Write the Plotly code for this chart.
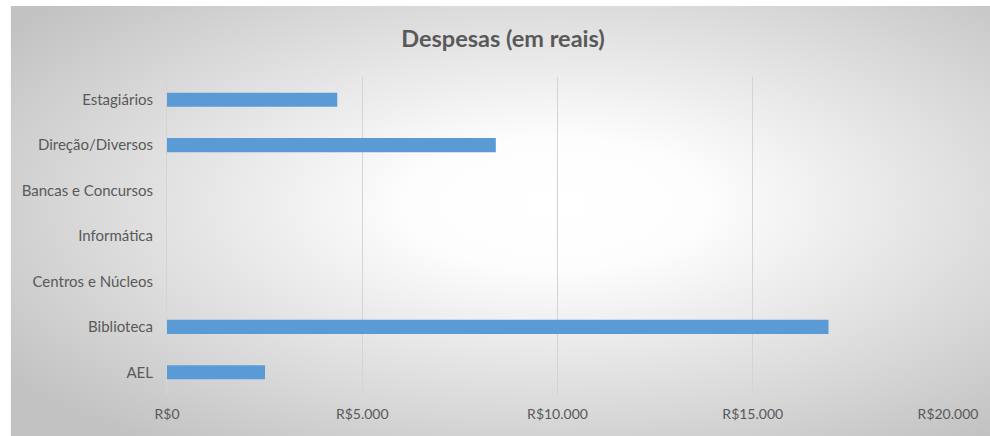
import base64
import plotly.graph_objects as go

categories = ["AEL", "Biblioteca", "Centros e Núcleos", "Informática",
              "Bancas e Concursos", "Direção/Diversos", "Estagiários"]
values = [2510, 16940, 0, 0, 0, 8420, 4360]
tick_vals = [0, 5000, 10000, 15000, 20000]
tick_text = ["R$0", "R$5.000", "R$10.000", "R$15.000", "R$20.000"]
title_text = "Despesas (em reais)"

W, H = 990, 436
L, R, T, B = 167, 34, 77, 41
pw, ph = W - L - R, H - T - B

svg = (
    '<svg xmlns="http://www.w3.org/2000/svg" width="1000" height="440" '
    'viewBox="0 0 1000 440" preserveAspectRatio="none">'
    '<defs><radialGradient id="g" cx="55%" cy="45%" r="68%">'
    '<stop offset="0" stop-color="#ffffff"/>'
    '<stop offset="0.22" stop-color="#fdfdfd"/>'
    '<stop offset="1" stop-color="#c2c2c2"/>'
    '</radialGradient></defs>'
    '<rect x="0" y="0" width="1000" height="440" fill="url(#g)"/></svg>'
)
src = "data:image/svg+xml;base64," + base64.b64encode(svg.encode()).decode()

x0 = (9 - L) / pw
x1 = (W + 20 - L) / pw
ytop = (H - B - 6) / ph
ybot = (H - B - H - 10) / ph

fig = go.Figure(go.Bar(
    x=values, y=categories, orientation="h",
    marker=dict(color="#5B9BD5", line=dict(width=0)),
    width=0.31,
))

fig.add_layout_image(dict(
    source=src, xref="paper", yref="paper",
    x=x0, y=ytop, sizex=x1 - x0, sizey=ytop - ybot,
    xanchor="left", yanchor="top", sizing="stretch", layer="below",
))

fig.update_layout(
    width=W, height=H,
    margin=dict(l=L, r=R, t=T, b=B, pad=0),
    paper_bgcolor="white",
    plot_bgcolor="rgba(0,0,0,0)",
    font=dict(family="Lato", size=14, color="#595959"),
    title=dict(text=title_text, x=503 / W, xanchor="center",
               y=1 - 39 / H, yanchor="middle",
               font=dict(family="Lato", size=23.5, color="#595959", weight="bold")),
    showlegend=False,
    bargap=0.69,
)
fig.update_xaxes(
    range=[0, 20000], tickvals=tick_vals, ticktext=tick_text,
    showgrid=True, gridcolor="#d4d4d4", gridwidth=1,
    zeroline=False, showline=False, ticks="",
    ticklabelstandoff=9, tickfont=dict(size=14, color="#595959"),
    fixedrange=True,
)
fig.update_yaxes(
    categoryorder="array", categoryarray=categories,
    showgrid=False, zeroline=False,
    showline=True, linecolor="#d4d4d4", linewidth=1,
    ticks="", ticklabelstandoff=10,
    tickfont=dict(size=15, color="#595959"),
    range=[-0.5, 6.5], fixedrange=True,
)

fig.write_html(
    "out.html", config={"displayModeBar": False, "responsive": False},
    post_script=("document.documentElement.style.overflow='hidden';"
                 "document.body.style.overflow='hidden';"
                 "document.body.style.margin='0';document.body.style.padding='0';"),
)
